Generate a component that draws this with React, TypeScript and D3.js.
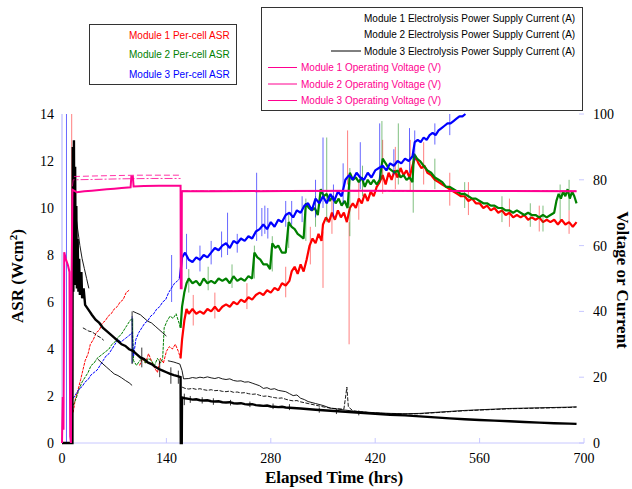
import * as d3 from "d3";

type Pt = [number, number | null];
type Spike = [number, number, number];

// axis ticks
const TIME_TICKS = [0, 140, 280, 420, 560, 700];
const ASR_TICKS = [0, 2, 4, 6, 8, 10, 12, 14];
const RIGHT_TICKS = [0, 20, 40, 60, 80, 100];

const asrLegend = ["Module 1 Per-cell ASR", "Module 2 Per-cell ASR", "Module 3 Per-cell ASR"];
const powerLegend = [
  "Module 1 Electrolysis Power Supply Current (A)",
  "Module 2 Electrolysis Power Supply Current (A)",
  "Module 3 Electrolysis Power Supply Current (A)",
  "Module 1 Operating Voltage (V)",
  "Module 2 Operating Voltage (V)",
  "Module 3 Operating Voltage (V)",
];

// per-cell ASR (left axis)
const asrModule1: Pt[] = [
  [15, 1.3], [18, 1.9], [21, 2.2], [25, 2.7], [28, 3.1], [31, 3.5], [35, 3.8], [38, 4.2], [42, 4.4], [46, 4.7],
  [50, 4.8], [54, 5.1], [58, 5.2], [62, 5.4], [66, 5.5], [70, 5.7], [74, 5.8], [78, 6.0], [82, 6.1], [86, 6.4],
  [90, 6.5], [91, null],
  [104, 3.3], [108, 3.6], [112, 3.4], [116, 3.8], [120, 3.5], [124, 3.2], [128, 3.0], [132, 3.6], [136, 3.4],
  [140, 3.9], [144, 4.1], [148, 4.0], [152, 4.2], [156, 3.9], [159, 3.6], [161, 4.4], [164, 5.2], [167, 5.7],
  [170, 5.5], [175, 5.7], [180, 5.5], [185, 5.6], [190, 5.5], [195, 5.7], [200, 5.6], [205, 5.8], [210, 5.6],
  [215, 5.8], [220, 5.9], [225, 5.8], [230, 6.0], [235, 5.9], [240, 6.1], [245, 6.0], [250, 6.2], [255, 6.1],
  [260, 6.3], [265, 6.4], [270, 6.3], [275, 6.5], [280, 6.4], [285, 6.6], [290, 6.5], [295, 6.8], [300, 6.7],
  [305, 6.9], [308, 7.3], [312, 7.5], [316, 7.2], [320, 7.6], [324, 7.3], [328, 7.8], [332, 8.4], [336, 8.7],
  [340, 8.5], [344, 8.9], [348, 8.6], [350, 9.3], [354, 9.6], [358, 9.4], [362, 9.8], [366, 9.5], [370, 9.9],
  [374, 9.6], [378, 9.8], [382, 9.4], [386, 10.0], [390, 10.2], [394, 10.0], [398, 10.4], [402, 10.2],
  [406, 10.6], [410, 10.3], [414, 10.7], [418, 10.5], [422, 10.9], [426, 11.1], [430, 11.4], [434, 11.0],
  [438, 11.5], [442, 11.2], [446, 11.6], [450, 11.3], [454, 11.7], [458, 11.4], [462, 11.6], [466, 11.3],
  [470, 11.8], [474, 12.2], [478, 11.9], [482, 11.7], [486, 11.8], [490, 11.5], [495, 11.4], [500, 11.2],
  [505, 11.1], [510, 11.0], [515, 10.9], [520, 10.8], [525, 10.7], [530, 10.6], [535, 10.5], [540, 10.5],
  [545, 10.3], [550, 10.4], [555, 10.2], [560, 10.2], [565, 10.0], [570, 10.1], [575, 9.9], [580, 10.0],
  [585, 9.8], [590, 9.9], [595, 9.7], [600, 9.8], [605, 9.6], [610, 9.7], [615, 9.6], [620, 9.7], [625, 9.5],
  [630, 9.6], [635, 9.5], [640, 9.6], [645, 9.4], [650, 9.5], [655, 9.4], [660, 9.5], [665, 9.3], [670, 9.5],
  [675, 9.3], [680, 9.4], [685, 9.2], [690, 9.4],
];

const asrModule2: Pt[] = [
  [15, 1.6], [19, 1.9], [23, 2.3], [27, 2.6], [31, 2.8], [35, 3.0], [39, 3.3], [43, 3.4], [47, 3.6], [51, 3.7],
  [55, 3.8], [59, 3.9], [63, 4.0], [67, 4.2], [71, 4.3], [75, 4.5], [79, 4.6], [83, 4.8], [87, 5.0], [91, 5.2],
  [94, 5.3], [96, 3.5], [100, 3.3], [104, 3.5], [108, 3.6], [112, 3.4], [116, 3.6], [120, 3.5], [124, 3.3],
  [128, 3.6], [132, 3.4], [135, 3.6], [137, 4.9], [141, 5.2], [145, 5.4], [149, 5.3], [153, 5.5], [157, 5.1],
  [159, 4.9], [161, 5.8], [164, 6.4], [167, 6.8], [170, 7.0], [175, 6.8], [180, 6.9], [185, 6.7], [190, 7.0],
  [195, 6.8], [200, 6.9], [205, 6.8], [210, 7.0], [215, 6.9], [220, 7.0], [225, 6.8], [230, 7.1], [235, 6.9],
  [240, 7.0], [245, 6.9], [250, 7.1], [255, 7.0], [258, 8.1], [262, 7.9], [266, 7.8], [270, 7.6], [275, 7.6],
  [279, 7.4], [282, 8.5], [286, 8.3], [290, 8.4], [295, 8.1], [300, 8.1], [304, 9.4], [308, 9.2], [312, 9.1],
  [316, 8.9], [320, 8.8], [324, 8.7], [327, 10.2], [331, 10.0], [335, 9.9], [339, 10.0], [343, 9.7],
  [347, 10.8], [351, 10.5], [355, 10.6], [359, 10.3], [363, 10.5], [367, 10.2], [371, 10.4], [375, 10.1],
  [379, 10.3], [383, 10.0], [386, 11.5], [390, 11.2], [394, 11.3], [398, 11.1], [402, 11.3], [406, 10.9],
  [410, 11.2], [414, 11.0], [418, 11.2], [422, 11.0], [426, 11.2], [430, 12.1], [434, 11.9], [438, 11.7],
  [442, 11.6], [446, 11.5], [450, 11.6], [454, 11.3], [458, 11.4], [462, 11.2], [466, 11.3], [470, 11.1],
  [472, 12.3], [476, 12.1], [480, 12.0], [485, 11.8], [490, 11.6], [495, 11.5], [500, 11.3], [505, 11.2],
  [510, 11.1], [515, 10.9], [520, 10.9], [525, 10.8], [530, 10.7], [535, 10.6], [540, 10.6], [545, 10.5],
  [550, 10.4], [555, 10.4], [560, 10.3], [565, 10.2], [570, 10.2], [575, 10.1], [580, 10.1], [585, 10.0],
  [590, 10.0], [595, 9.9], [600, 9.9], [605, 9.8], [610, 9.9], [615, 9.8], [620, 9.7], [625, 9.8], [630, 9.7],
  [635, 9.7], [640, 9.6], [645, 9.7], [650, 9.6], [655, 9.7], [660, 9.8], [663, 10.3], [666, 10.6], [669, 10.4],
  [672, 10.7], [675, 10.5], [678, 10.8], [681, 10.4], [684, 10.7], [687, 10.5], [690, 10.2],
];

const asrModule3: Pt[] = [
  [15, 1.9], [19, 2.1], [23, 2.3], [27, 2.4], [31, 2.6], [35, 2.7], [39, 2.9], [43, 3.0], [47, 3.1], [51, 3.3],
  [55, 3.5], [59, 3.7], [63, 3.8], [67, 4.0], [71, 4.2], [75, 4.4], [79, 4.3], [83, 4.4], [87, 4.5], [91, 4.6],
  [94, 4.7], [96, 3.7], [99, 4.4], [103, 4.7], [107, 4.9], [111, 5.1], [115, 5.2], [119, 5.4], [123, 5.5],
  [127, 5.7], [131, 5.8], [135, 6.0], [139, 6.1], [143, 6.4], [147, 6.6], [151, 6.8], [155, 6.9], [158, 7.0],
  [161, 7.9], [165, 8.1], [170, 7.8], [175, 7.7], [180, 7.9], [185, 7.8], [190, 8.0], [195, 7.9], [200, 8.1],
  [205, 8.3], [210, 8.2], [215, 8.4], [220, 8.5], [225, 8.3], [230, 8.6], [235, 8.5], [240, 8.7], [245, 8.6],
  [250, 8.8], [255, 8.7], [260, 9.0], [265, 9.1], [270, 9.3], [275, 9.1], [280, 9.4], [285, 9.2], [290, 9.5],
  [295, 9.4], [300, 9.7], [305, 9.8], [310, 9.6], [315, 9.9], [320, 9.8], [325, 10.1], [330, 10.2], [335, 9.9],
  [340, 10.4], [345, 10.2], [350, 10.5], [355, 10.2], [360, 10.6], [365, 10.3], [370, 10.7], [375, 10.5],
  [380, 11.2], [385, 11.4], [390, 11.2], [395, 11.5], [400, 11.3], [405, 11.2], [410, 11.5], [415, 11.3],
  [420, 11.6], [425, 11.7], [430, 11.8], [435, 11.6], [440, 11.9], [445, 11.8], [450, 12.0], [455, 11.9],
  [460, 12.1], [465, 12.0], [470, 12.2], [473, 12.8], [477, 12.9], [481, 12.8], [485, 13.0], [489, 12.9],
  [493, 13.1], [497, 13.2], [501, 13.1], [505, 13.3], [509, 13.4], [513, 13.5], [517, 13.6], [521, 13.6],
  [525, 13.7], [529, 13.8], [533, 13.9], [537, 13.9], [541, 14.0],
];

// noise spikes [t, low, high]
const asrSpikes1: Spike[] = [
  [13, 0, 14], [176, 5.0, 6.3], [205, 5.3, 6.4], [248, 5.7, 6.8], [300, 6.2, 7.5], [333, 7.6, 9.2],
  [350, 6.6, 9.0], [362, 8.9, 10.4], [383, 11.0, 13.3], [385, 4.2, 9.4], [398, 9.5, 11.2], [430, 10.6, 12.9],
  [447, 10.8, 12.6], [467, 10.7, 12.9], [485, 11.0, 12.8], [520, 10.1, 11.5], [545, 9.7, 11.1],
  [600, 9.2, 10.4], [640, 9.0, 10.1], [680, 8.9, 9.9],
];
const asrSpikes2: Spike[] = [
  [95, 3.4, 5.3], [170, 6.4, 7.4], [196, 6.5, 7.5], [228, 6.6, 7.6], [258, 7.0, 8.4], [282, 7.3, 8.8],
  [304, 8.3, 9.7], [327, 8.6, 10.4], [340, 9.2, 10.5], [355, 9.4, 13.0], [386, 8.8, 11.7], [403, 10.5, 11.8],
  [429, 11.2, 13.7], [451, 11.0, 13.6], [471, 9.8, 12.5], [500, 10.8, 12.1], [540, 10.0, 11.1],
  [590, 9.4, 10.5], [628, 9.2, 10.2], [645, 9.0, 10.1], [668, 9.5, 11.0], [680, 9.9, 11.2],
];
const asrSpikes3: Spike[] = [
  [6, 0, 14], [94, 3.4, 5.4], [147, 6.0, 8.0], [160, 6.6, 8.6], [167, 7.4, 8.9], [185, 7.3, 8.4],
  [200, 7.6, 8.6], [214, 7.9, 9.0], [222, 8.0, 9.8], [235, 8.1, 8.9], [261, 8.6, 11.5], [268, 8.8, 10.0],
  [272, 8.9, 10.1], [276, 8.7, 10.0], [300, 9.2, 10.3], [308, 9.3, 10.3], [322, 9.4, 10.5], [340, 9.6, 11.2],
  [350, 10.0, 13.0], [364, 9.6, 11.0], [377, 10.2, 11.9], [400, 10.8, 12.8], [426, 11.2, 13.6],
  [445, 11.4, 12.5], [466, 11.5, 13.4], [473, 12.0, 13.3], [500, 12.7, 13.6], [520, 13.1, 14.0],
];

// power supply currents (right axis)
const currentModule1: Pt[] = [
  [18, 70], [21, 65], [24, 60], [27, 56], [30, 53], [33, 50], [36, 47], [37, null],
  [48, 25.5], [55, 24], [60, 23], [65, 22], [70, 21], [75, 20.5], [80, 19.8], [85, 19], [90, 18.3], [94, 17.5],
  [95, null],
  [95, 40], [100, 39.5], [105, 39], [110, 38], [115, 37], [120, 36.5], [125, 35.5], [130, 34.5], [135, 33.5],
  [140, 32.5], [141, null],
  [142, 25], [146, 24.8], [150, 24.6], [154, 24.3], [158, 24], [161, 22], [163, 19.5], [170, 19.6], [175, 19.9],
  [180, 19.7], [185, 20.0], [190, 19.8], [195, 20.1], [200, 19.8], [205, 19.6], [210, 19.9], [215, 19.5],
  [220, 19.3], [225, 19.5], [230, 19.0], [235, 18.8], [240, 18.9], [245, 18.5], [250, 18.6], [255, 18.2],
  [260, 17.8], [265, 17.4], [270, 16.6], [275, 16.8], [280, 16.3], [285, 16.5], [290, 16.0], [295, 15.8],
  [300, 15.6], [305, 15.0], [310, 14.4], [315, 14.6], [320, 13.6], [325, 13.2], [330, 12.6], [340, 12.0],
  [350, 11.4], [360, 10.6], [370, 10.3], [380, 10.0], [390, 9.7], [400, 9.5], [420, 9.2], [440, 9.0],
  [460, 8.9], [480, 9.0], [500, 9.3], [520, 9.6], [540, 9.9], [560, 10.1], [580, 10.3], [600, 10.5],
  [620, 10.6], [640, 10.7], [660, 10.8], [680, 10.9], [690, 11.0],
];

const currentModule2: Pt[] = [
  [28, 35], [32, 34.5], [36, 34], [40, 33.8], [44, 33.2], [48, 32.5], [52, 32], [56, 31.2], [57, null],
  [161, 17], [165, 16.6], [170, 16.4], [175, 16.6], [180, 16.3], [185, 16.5], [190, 16.2], [195, 16.0],
  [200, 16.2], [205, 15.9], [210, 16.0], [215, 15.7], [220, 15.6], [225, 15.8], [230, 15.4], [235, 15.5],
  [240, 15.2], [245, 15.3], [250, 15.0], [255, 14.8], [260, 14.9], [265, 14.5], [270, 14.2], [275, 14.3],
  [280, 14.0], [285, 13.8], [290, 13.6], [295, 13.7], [300, 13.3], [305, 13.0], [310, 12.8], [315, 12.9],
  [320, 12.5], [330, 12.0], [340, 11.5], [350, 11.0], [360, 10.6], [370, 10.4], [378, 10.3], [380, 13.5],
  [382, 17.0], [384, 11.0], [390, 9.8], [400, 9.5], [420, 9.1], [440, 8.9], [460, 8.8], [480, 8.9],
  [500, 9.2], [520, 9.5], [540, 9.8], [560, 10.0], [580, 10.2], [600, 10.4], [620, 10.5], [640, 10.6],
  [660, 10.7], [680, 10.8], [690, 10.9],
];

const currentModule3: Pt[] = [
  [0, 0], [14, 0], [14.4, 90], [15.2, 46], [16, 92], [16.8, 48], [17.6, 84], [18.4, 50], [19.2, 72], [20, 47],
  [21, 62], [22, 46], [23, 56], [24, 45], [26, 52], [27, 44], [29, 47], [31, 42], [34, 41], [37, 40], [40, 39],
  [45, 37.5], [50, 36.5], [55, 35], [60, 34], [65, 33], [70, 32], [75, 31], [80, 30], [85, 29.5], [90, 28.5],
  [95, 28], [100, 27], [105, 26], [110, 25.5], [115, 24.5], [120, 24], [125, 23.2], [130, 22.5], [135, 22],
  [140, 21.5], [145, 21], [150, 20.6], [155, 20.3], [159, 20], [159.3, 0], [160.6, 0], [160.9, 13.8],
  [165, 13.6], [170, 13.4], [175, 13.2], [180, 13.3], [185, 13.0], [190, 12.9], [195, 13.0], [200, 12.7],
  [205, 12.6], [210, 12.7], [215, 12.4], [220, 12.3], [225, 12.4], [230, 12.1], [235, 12.0], [240, 12.1],
  [245, 11.8], [250, 11.7], [255, 11.8], [260, 11.5], [265, 11.4], [270, 11.3], [275, 11.4], [280, 11.1],
  [285, 11.0], [290, 10.9], [295, 11.0], [300, 10.8], [320, 10.5], [340, 10.1], [360, 9.8], [380, 9.5],
  [400, 9.2], [420, 8.9], [440, 8.6], [460, 8.4], [480, 8.1], [500, 7.8], [520, 7.5], [540, 7.2], [560, 7.0],
  [580, 6.8], [600, 6.6], [620, 6.4], [640, 6.2], [660, 6.0], [680, 5.9], [690, 5.8],
];

const currentSpikes3: Spike[] = [
  [94, 24, 40], [107, 23, 29], [131, 20, 25], [146, 18, 23], [156, 18, 22], [164, 11.5, 15],
  [172, 12.2, 14.3], [188, 12, 13.9], [203, 11.6, 13.6], [226, 11.4, 13.1], [252, 10.9, 12.6],
  [283, 10.3, 12.0], [305, 10.0, 11.8], [345, 9.2, 10.8], [368, 8.8, 10.3], [398, 8.4, 9.9],
];

// operating voltages (right axis)
const voltageModule1: Pt[] = [
  [14, 78], [15, 80], [40, 80.1], [80, 80.3], [120, 80.4], [159, 80.4], [159.5, null],
  [161, 76.6], [690, 76.6],
];
const voltageModule2: Pt[] = [
  [16, 81], [50, 81.2], [100, 81.4], [159, 81.4], [159.5, null], [161, 76.6], [690, 76.6],
];
const voltageModule3: Pt[] = [
  [0, 0], [1, 14], [2, 4], [3, 58], [5, 56], [8, 54], [10, 52], [11, 2], [12, 0], [13, 53], [14, 77],
  [20, 76.2], [30, 76.5], [40, 76.7], [50, 76.9], [60, 77.1], [70, 77.3], [80, 77.5], [92, 77.7], [93, 81],
  [95, 81], [96, 78], [110, 78.1], [130, 78.2], [159, 78.2], [159.3, 47], [160.4, 47], [160.7, 76.6],
  [200, 76.5], [300, 76.6], [400, 76.7], [500, 76.6], [600, 76.6], [690, 76.5],
];

const RED = "#ff0000";
const GREEN = "#008000";
const BLUE = "#0000ff";
const PINK = "#ff0090";
const AXIS = "#c8c8ff";
const SERIF = "'Liberation Serif', 'Times New Roman', serif";
const SANS = "'Liberation Sans', Arial, sans-serif";
const SPLIT_T = 160; // thin dotted early traces, dense noisy band afterwards

export default function App() {
  const width = 632;
  const height = 489;

  const x = d3.scaleLinear().domain([0, 700]).range([62, 584]);
  const yL = d3.scaleLinear().domain([0, 14]).range([443, 114]);
  const yR = d3.scaleLinear().domain([0, 100]).range([443, 114]);

  const lineL = d3
    .line<Pt>()
    .defined((d) => d[1] != null)
    .x((d) => x(d[0]))
    .y((d) => yL(d[1] as number));
  const lineR = d3
    .line<Pt>()
    .defined((d) => d[1] != null)
    .x((d) => x(d[0]))
    .y((d) => yR(d[1] as number));

  const spikes = (data: Spike[], y: d3.ScaleLinear<number, number>, color: string, w: number, op: number) =>
    data.map(([t, lo, hi], i) => (
      <line
        key={i}
        x1={x(t)}
        x2={x(t)}
        y1={y(lo)}
        y2={y(hi)}
        stroke={color}
        strokeWidth={w}
        strokeOpacity={op}
      />
    ));

  const asrTrace = (data: Pt[], color: string) => (
    <g>
      <path
        d={lineL(data.filter((d) => d[0] <= SPLIT_T)) ?? ""}
        fill="none"
        stroke={color}
        strokeWidth={1}
        strokeDasharray="3,1"
      />
      <path
        d={lineL(data.filter((d) => d[0] >= SPLIT_T - 2)) ?? ""}
        fill="none"
        stroke={color}
        strokeWidth={2.2}
        strokeLinejoin="bevel"
      />
    </g>
  );

  const asrColors = [RED, GREEN, BLUE];
  const powerColors = ["#000", "#000", "#000", PINK, PINK, PINK];

  return (
    <div style={{ position: "absolute", left: 0, top: 0 }}>
      <svg width={width} height={height} style={{ display: "block", background: "#fff" }}>
        {/* axes */}
        <line x1={x(0)} x2={x(700)} y1={yL(0)} y2={yL(0)} stroke={AXIS} />
        <line x1={x(0)} x2={x(0)} y1={yL(0)} y2={yL(14)} stroke={AXIS} strokeWidth={1.5} />
        {TIME_TICKS.map((t) => (
          <g key={t}>
            <line x1={x(t)} x2={x(t)} y1={yL(0)} y2={yL(0) - 5} stroke={AXIS} />
            <text x={x(t)} y={463} textAnchor="middle" fontFamily={SERIF} fontSize={14}>
              {t}
            </text>
          </g>
        ))}
        {ASR_TICKS.map((v) => (
          <text key={v} x={54} y={yL(v) + 5} textAnchor="end" fontFamily={SERIF} fontSize={14}>
            {v}
          </text>
        ))}
        {RIGHT_TICKS.map((v) => (
          <g key={v}>
            <line x1={x(700) - 5} x2={x(700)} y1={yR(v)} y2={yR(v)} stroke={AXIS} />
            <text x={593} y={yR(v) + 5} fontFamily={SERIF} fontSize={14}>
              {v}
            </text>
          </g>
        ))}

        {/* ASR traces */}
        {spikes(asrSpikes1, yL, RED, 1, 0.5)}
        {asrTrace(asrModule1, RED)}
        {spikes(asrSpikes2, yL, GREEN, 1, 0.5)}
        {asrTrace(asrModule2, GREEN)}
        {spikes(asrSpikes3, yL, BLUE, 1, 0.6)}
        {asrTrace(asrModule3, BLUE)}

        {/* currents */}
        <path d={lineR(currentModule1) ?? ""} fill="none" stroke="#000" strokeWidth={0.9} />
        <path
          d={lineR(currentModule2) ?? ""}
          fill="none"
          stroke="#000"
          strokeWidth={0.9}
          strokeDasharray="4,1.5"
        />
        {spikes(currentSpikes3, yR, "#000", 0.8, 1)}
        <path d={lineR(currentModule3) ?? ""} fill="none" stroke="#000" strokeWidth={2.4} />

        {/* voltages */}
        <path
          d={lineR(voltageModule1) ?? ""}
          fill="none"
          stroke={PINK}
          strokeWidth={0.8}
          strokeDasharray="8,2,2,2"
        />
        <path
          d={lineR(voltageModule2) ?? ""}
          fill="none"
          stroke={PINK}
          strokeWidth={0.8}
          strokeDasharray="6,3"
        />
        <path d={lineR(voltageModule3) ?? ""} fill="none" stroke={PINK} strokeWidth={2} />

        {/* axis titles */}
        <text
          transform="translate(23,276) rotate(-90)"
          textAnchor="middle"
          fontFamily={SERIF}
          fontWeight="bold"
          fontSize={17}
        >
          ASR (Wcm<tspan dy={-6} fontSize={11}>2</tspan>
          <tspan dy={6}>)</tspan>
        </text>
        <text
          transform="translate(617,280) rotate(90)"
          textAnchor="middle"
          fontFamily={SERIF}
          fontWeight="bold"
          fontSize={17}
        >
          Voltage or Current
        </text>
        <text x={334} y={483} textAnchor="middle" fontFamily={SERIF} fontWeight="bold" fontSize={17}>
          Elapsed Time (hrs)
        </text>

        {/* ASR legend */}
        <rect x={89.5} y={24.5} width={147} height={60} fill="#fff" stroke="#333" />
        {asrLegend.map((label, i) => (
          <text key={label} x={129} y={39 + i * 19.3} fill={asrColors[i]} fontFamily={SANS} fontSize={10}>
            {label}
          </text>
        ))}

        {/* power legend */}
        <rect x={261.5} y={7.5} width={321} height={103} fill="#fff" stroke="#333" />
        {powerLegend.map((label, i) => {
          const cy = 18 + i * 16.5;
          const isV = i >= 3;
          const tx = isV ? 301 : 364;
          return (
            <g key={label}>
              {(i === 2 || isV) && (
                <line
                  x1={isV ? 268 : 331}
                  x2={isV ? 297 : 361}
                  y1={cy}
                  y2={cy}
                  stroke={powerColors[i]}
                  strokeWidth={1}
                />
              )}
              <text x={tx} y={cy + 3.5} fill={powerColors[i]} fontFamily={SANS} fontSize={10}>
                {label}
              </text>
            </g>
          );
        })}
      </svg>
    </div>
  );
}
